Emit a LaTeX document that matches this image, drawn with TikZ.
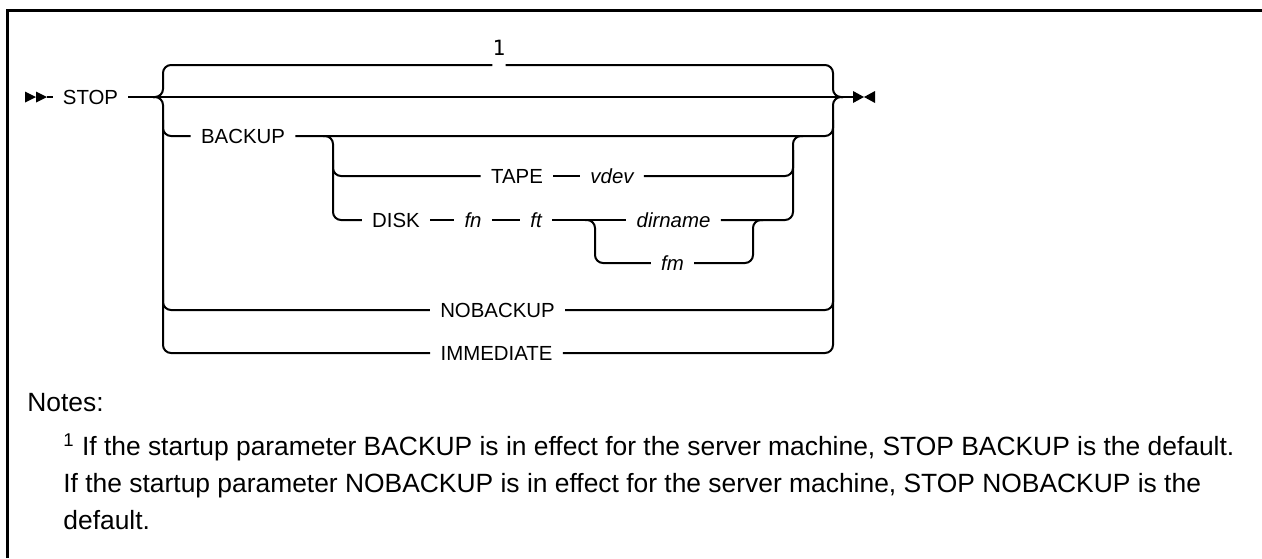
\documentclass[tikz,border=0pt]{standalone}
\usepackage{fontspec}
\setmainfont{Liberation Sans}
\setmonofont{DejaVu Sans Mono}
\usepackage{tikz}

\begin{document}
\begin{tikzpicture}[x=0.5pt, y=-0.5pt,
  kw/.style={inner xsep=5pt, inner ysep=0pt, text height=8.1pt, text depth=0.8pt, font=\fontsize{10.2}{12}\selectfont},
  var/.style={kw, font=\fontsize{10.2}{12}\selectfont\itshape},
  rail/.style={line width=1pt, rounded corners=4pt},
  notetext/.style={anchor=base west, inner sep=0pt, font=\fontsize{13.2}{18.5}\selectfont},
]
  \useasboundingbox (0,0) rectangle (1262,558);

  % Frame
  \draw[line width=1.5pt] (7,558) -- (7,10) -- (1262,10);

  % Keywords and variables
  \node[kw] (stop) at (90.5,97) {STOP};
  \node[inner sep=0pt, font=\fontsize{10.5}{12}\selectfont\ttfamily] (one) at (499,48) {1};
  \node[kw] (backup) at (243,136) {BACKUP};
  \node[kw] (tape) at (517,176) {TAPE};
  \node[var] (vdev) at (612,176) {vdev};
  \node[kw] (disk) at (396,220) {DISK};
  \node[var] (fn) at (473,220) {fn};
  \node[var] (ft) at (536,220) {ft};
  \node[var] (dirname) at (673.5,220) {dirname};
  \node[var] (fm) at (672.5,263) {fm};
  \node[kw] (nobackup) at (497.5,310) {NOBACKUP};
  \node[kw] (immediate) at (496.5,353) {IMMEDIATE};

  \coordinate (begin) at (47,97);
  \coordinate (finish) at (853,97);
  \coordinate (toprail) at (163,65);

  % Start and end marks
  \fill (25,91.5) -- (36,97) -- (25,102.5) -- cycle;
  \fill (36,91.5) -- (47,97) -- (36,102.5) -- cycle;
  \fill (853,91) -- (864,97) -- (853,103) -- cycle;
  \fill (875,91) -- (864,97) -- (875,103) -- cycle;

  % Main line
  \draw[rail] (begin) -- (stop.west);
  \draw[rail] (stop.east) -- (finish);

  % Default branch
  \draw[rail] (153,97) -| (toprail) -- (one.south west |- toprail);
  \draw[rail] (one.south east |- toprail) -| (833,97) -- (843,97);

  % Outer choices
  \draw[rail] (153,97) -| (163,353) -- (immediate.west);
  \draw[rail] (immediate.east) -| (833,97) -- (843,97);
  \draw[rail] (163,120) |- (backup.west);
  \draw[rail] (backup.east) -| (833,120);
  \draw[rail] (163,290) |- (nobackup.west);
  \draw[rail] (nobackup.east) -| (833,290);

  % TAPE / DISK
  \draw[rail] (323,136) -| (333,220) -- (disk.west);
  \draw[rail] (333,160) |- (tape.west);
  \draw[rail] (tape.east) -- (vdev.west);
  \draw[rail] (vdev.east) -| (793,150);
  \draw[rail] (disk.east) -- (fn.west);
  \draw[rail] (fn.east) -- (ft.west);
  \draw[rail] (ft.east) -- (dirname.west);
  \draw[rail] (dirname.east) -| (793,136) -- (803,136);

  % dirname / fm
  \draw[rail] (585,220) -| (595,263) -- (fm.west);
  \draw[rail] (fm.east) -| (753,220) -- (763,220);

  % Notes
  \node[notetext] (notes) at (27,411) {Notes:};
  \node[notetext] (note1) at (63,455) {\textsuperscript{1} If the startup parameter BACKUP is in effect for the server machine, STOP BACKUP is the default.};
  \node[notetext] (note2) at (63,492) {If the startup parameter NOBACKUP is in effect for the server machine, STOP NOBACKUP is the};
  \node[notetext] (note3) at (63,529) {default.};
\end{tikzpicture}
\end{document}
